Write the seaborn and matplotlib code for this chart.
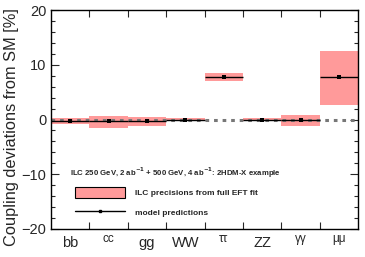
import numpy as np
import matplotlib
matplotlib.use('Agg')
import matplotlib.pyplot as plt
import seaborn as sns
from matplotlib.patches import Patch
from matplotlib.lines import Line2D
from matplotlib.ticker import MultipleLocator

sns.set_style('ticks')
plt.rcParams['font.family'] = ['Liberation Sans', 'DejaVu Sans']

channels = ['bb', 'cc', 'gg', 'WW', 'ττ', 'ZZ', 'γγ', 'μμ']
model = [-0.3, -0.3, -0.3, 0.0, 7.7, 0.0, 0.0, 7.7]
prec_lo = [-0.8, -1.5, -1.2, -0.2, 7.0, -0.2, -1.2, 2.7]
prec_hi = [0.3, 0.7, 0.5, 0.2, 8.5, 0.2, 0.9, 12.6]

box_color = '#ff9a9a'
x = np.arange(len(channels)) + 0.5

fig = plt.figure(figsize=(3.65, 2.57), dpi=100)
ax = fig.add_axes([0.14, 0.109, 0.841, 0.852])

ax.bar(x, np.array(prec_hi) - np.array(prec_lo), bottom=prec_lo, width=1.0,
       color=box_color, edgecolor='none', zorder=1)
ax.axhline(0, color='#777777', lw=2.2, ls=(0, (1.2, 1.6)), zorder=2)
ax.errorbar(x, model, xerr=0.5, fmt='none', ecolor='black', elinewidth=1.0,
            capsize=0, zorder=3)
sns.scatterplot(x=x, y=model, ax=ax, color='black', s=5, marker='s',
                edgecolor='black', linewidth=0, zorder=4, legend=False)

ax.set_xlim(0, len(channels))
ax.set_ylim(-20, 20)
ax.set_xticks(np.arange(1, len(channels)))
ax.set_xticklabels([])
ax.set_xticks(x, minor=True)
ax.set_xticklabels(channels, minor=True, fontsize=10.5)
ax.tick_params(axis='x', which='minor', length=0, pad=5)
ax.tick_params(axis='x', which='major', direction='in', length=5, width=0.8,
               top=True, bottom=True)
# greek and cc labels are smaller and sit a bit higher in the original
for lab in ax.get_xticklabels(minor=True):
    if lab.get_text() in ('cc', 'ττ', 'γγ', 'μμ'):
        lab.set_fontsize(8.5)
        lab.set_y(0.012)
ax.yaxis.set_major_locator(MultipleLocator(10))
ax.yaxis.set_minor_locator(MultipleLocator(2))
ax.tick_params(axis='y', which='both', direction='in', left=True, right=True,
               labelsize=10.5, width=0.8)
ax.tick_params(axis='y', which='major', length=6)
ax.tick_params(axis='y', which='minor', length=3)
for s in ax.spines.values():
    s.set_visible(True)
    s.set_linewidth(1.0)
    s.set_color('black')
ax.set_ylabel('Coupling deviations from SM [%]', fontsize=11.8)
ax.yaxis.set_label_coords(-0.105, 0.465)

ax.text(0.062, 0.256,
        r'ILC 250 GeV, 2 ab$^{\mathbf{-1}}$ + 500 GeV, 4 ab$^{\mathbf{-1}}$: 2HDM-X example',
        transform=ax.transAxes, fontsize=5.6, fontweight='bold', va='center')
handles = [Patch(facecolor=box_color, edgecolor='black', linewidth=0.8),
           Line2D([0], [0], color='black', lw=1.0, marker='s', markersize=1.8)]
labels = ['ILC precisions from full EFT fit', 'model predictions']
ax.legend(handles, labels, loc='lower left', bbox_to_anchor=(0.055, 0.02),
          frameon=False, prop={'size': 6, 'weight': 'bold'},
          handlelength=6.0, handleheight=1.7, handletextpad=1.3,
          labelspacing=1.0, borderpad=0.3)

fig.savefig('out.png', dpi=100)
